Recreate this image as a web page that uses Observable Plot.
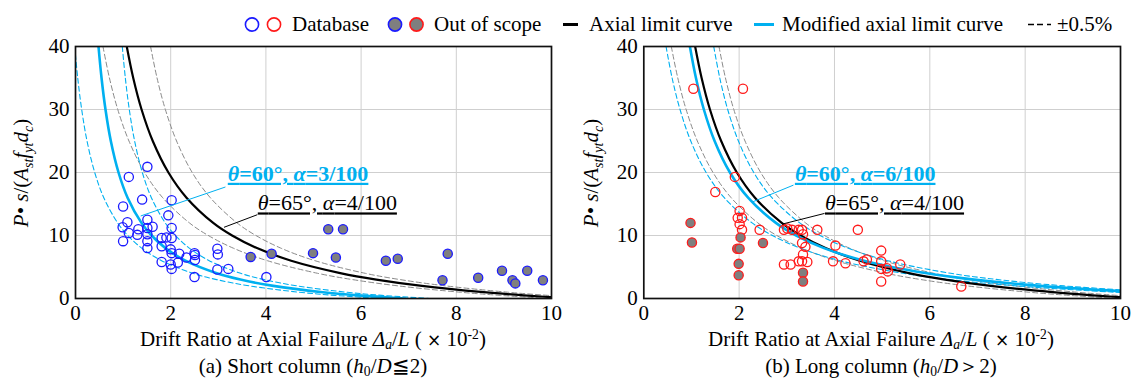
<!DOCTYPE html>
<html>
<head>
<meta charset="utf-8">
<script src="https://cdn.jsdelivr.net/npm/d3@7"></script>
<script src="https://cdn.jsdelivr.net/npm/@observablehq/plot@0.6"></script>
<style>
  html,body{margin:0;padding:0;background:#fff;}
  #wrap{position:relative;width:1137px;height:381px;overflow:hidden;font-family:"Liberation Serif","Times New Roman",serif;color:#000;}
  .leg{position:absolute;top:14px;height:21px;display:flex;align-items:center;font-size:21px;line-height:21px;white-space:nowrap;}
  .leg svg{display:block;overflow:visible;}
  .panel{position:absolute;top:36px;}
  .under{position:absolute;font-size:21px;line-height:24px;white-space:nowrap;transform:translateX(-50%);}
  .under sub,.under sup{font-size:65%;line-height:0;}
  .under sub{vertical-align:-0.25em;}
  .under sup{vertical-align:0.55em;}
</style>
</head>
<body>
<div id="wrap">
  <div id="legend"></div>
  <div id="left" class="panel" style="left:0px"></div>
  <div id="right" class="panel" style="left:570px"></div>
  <div class="under" style="left:313px;top:327px">Drift Ratio at Axial Failure <i>Δ<sub>a</sub></i>/<i>L</i> ( <span style="font-family:'DejaVu Sans',sans-serif;font-size:17px">×</span> 10<sup>-2</sup>)</div>
  <div class="under" style="left:881px;top:327px">Drift Ratio at Axial Failure <i>Δ<sub>a</sub></i>/<i>L</i> ( <span style="font-family:'DejaVu Sans',sans-serif;font-size:17px">×</span> 10<sup>-2</sup>)</div>
  <div class="under" style="left:313px;top:354px">(a) Short column (<i>h</i><sub>0</sub>/<i>D</i>≦2)</div>
  <div class="under" style="left:881px;top:354px">(b) Long column (<i>h</i><sub>0</sub>/<i>D</i>＞2)</div>
</div>
<script>
// ---------------- data ----------------
const xTicks = [0, 2, 4, 6, 8, 10];
const yTicks = [0, 10, 20, 30, 40];
const gridX = [2, 4, 6, 8];
const gridY = [10, 20, 30];

// Curve ordinates P·s/(Ast fyt dc)
const curveY = [40, 35, 30, 25, 20, 16, 12, 10, 8, 6, 4, 3, 2, 1, 0.5, 0];
// Axial limit curve, θ=65°, α=4/100 (drift ×10^-2)
const axialLimitX = [1.077, 1.213, 1.388, 1.623, 1.952, 2.332, 2.893, 3.290, 3.812, 4.531, 5.585, 6.320, 7.278, 8.578, 9.419, 10.443];
// Modified curve, short column, θ=60°, α=3/100
const modShortX = [0.483, 0.547, 0.630, 0.742, 0.904, 1.094, 1.386, 1.599, 1.890, 2.309, 2.969, 3.464, 4.157, 5.196, 5.938, 6.928];
// Modified curve, long column, θ=60°, α=6/100
const modLongX = [0.967, 1.094, 1.260, 1.485, 1.807, 2.188, 2.771, 3.198, 3.779, 4.619, 5.938, 6.928, 8.314, 10.392, 11.877, 13.856];
const band = 0.5; // ±0.5 %

// Short column: database
const shortDbX = [1.51, 1.12, 1.40, 2.02, 1.00, 1.95, 1.51, 1.09, 1.51, 1.51, 1.51, 1.51, 0.99, 1.12, 1.32, 1.30, 1.00, 1.62, 2.02, 1.81, 1.91, 2.02, 1.81, 2.00, 2.02, 2.18, 2.33, 2.50, 2.51, 2.51, 1.81, 2.00, 2.02, 2.15, 2.98, 2.99, 2.98, 3.21, 2.50, 4.01];
const shortDbY = [20.9, 19.3, 15.7, 15.6, 14.6, 13.2, 12.5, 12.1, 11.2, 10.2, 9.1, 8.0, 11.3, 10.4, 11.0, 10.1, 9.1, 11.4, 11.2, 9.6, 9.7, 9.6, 8.3, 7.8, 7.2, 7.1, 6.5, 7.2, 6.9, 6.1, 5.8, 5.4, 4.7, 5.7, 7.9, 7.0, 4.6, 4.7, 3.4, 3.4];
// Short column: out of scope
const shortOutX = [3.68, 4.12, 4.99, 5.47, 5.31, 5.62, 6.52, 6.77, 7.82, 7.71, 8.46, 8.96, 9.18, 9.24, 9.49, 9.82];
const shortOutY = [6.6, 7.1, 7.2, 6.5, 11.0, 11.0, 6.0, 6.3, 7.1, 2.9, 3.3, 4.4, 2.9, 2.4, 4.4, 2.9];

// Long column: database
const longDbX = [1.04, 2.08, 1.91, 1.50, 2.01, 2.06, 1.97, 2.01, 2.06, 2.43, 2.94, 3.01, 3.11, 3.25, 3.32, 3.34, 3.64, 4.49, 3.32, 3.39, 4.02, 3.34, 3.32, 3.43, 3.25, 3.97, 4.23, 2.94, 3.08, 4.61, 4.68, 4.98, 4.98, 4.98, 5.12, 5.10, 5.38, 4.98, 6.66];
const longDbY = [33.3, 33.3, 19.3, 16.9, 13.9, 12.8, 12.8, 11.8, 10.9, 10.9, 10.9, 11.1, 10.9, 10.9, 10.9, 10.2, 10.9, 10.9, 8.8, 8.2, 8.4, 7.0, 5.9, 5.8, 5.9, 5.9, 5.6, 5.4, 5.4, 5.9, 6.2, 7.6, 5.9, 4.7, 4.3, 4.8, 5.4, 2.7, 1.9];
// Long column: out of scope
const longOutX = [0.98, 1.01, 2.03, 1.96, 2.01, 1.99, 1.99, 2.50, 3.34, 3.34];
const longOutY = [12.0, 8.9, 9.7, 7.9, 7.9, 5.5, 3.7, 8.8, 4.1, 2.7];

const legendLabels = ["Database", "Out of scope", "Axial limit curve", "Modified axial limit curve", "±0.5%"];

// ---------------- styles ----------------
const FONT = '"Liberation Serif","Times New Roman",serif';
const CYAN = "#00b0f0";
const BLUE = "#1a1aff";
const RED = "#ff1a1a";
const GRAY = "#7f7f7f";

const zipPts = (xs, ys) => xs.map((x, i) => ({x, y: ys[i]}));
const curveRows = (xs, off) => xs.map((x, i) => ({x: x + off, y: curveY[i]}));

function panel(cfg) {
  const lineOpts = {x: "x", y: "y", curve: "catmull-rom", clip: true};
  const marks = [
    Plot.ruleX(gridX, {stroke: "#cfcfcf", strokeWidth: 1}),
    Plot.ruleY(gridY, {stroke: "#cfcfcf", strokeWidth: 1}),
    Plot.line(curveRows(axialLimitX, band), {...lineOpts, stroke: "#8a8a8a", strokeWidth: 1, strokeDasharray: "5,3"}),
    Plot.line(curveRows(axialLimitX, -band), {...lineOpts, stroke: "#8a8a8a", strokeWidth: 1, strokeDasharray: "5,3"}),
    Plot.line(curveRows(cfg.mod, band), {...lineOpts, stroke: CYAN, strokeWidth: 1.1, strokeDasharray: "5,3"}),
    Plot.line(curveRows(cfg.mod, -band), {...lineOpts, stroke: CYAN, strokeWidth: 1.1, strokeDasharray: "5,3"}),
    Plot.line(curveRows(axialLimitX, 0), {...lineOpts, stroke: "#000", strokeWidth: 2.2}),
    Plot.line(curveRows(cfg.mod, 0), {...lineOpts, stroke: CYAN, strokeWidth: 2.6}),
    Plot.dot(cfg.db, {x: "x", y: "y", r: 4.6, stroke: cfg.color, strokeWidth: 1.3, fill: "none"}),
    Plot.dot(cfg.out, {x: "x", y: "y", r: 4.6, stroke: cfg.color, strokeWidth: 1.3, fill: GRAY}),
    Plot.link(cfg.leaders, {x1: "x1", y1: "y1", x2: "x2", y2: "y2", stroke: "color", strokeWidth: 1}),
    Plot.frame({stroke: "#111", strokeWidth: 1.7})
  ];
  const plot = Plot.plot({
    width: cfg.width, height: 290,
    marginLeft: cfg.ml, marginRight: cfg.mr, marginTop: 10, marginBottom: 28,
    x: {domain: [0, 10], ticks: xTicks, tickSize: 0, tickPadding: 7, label: null},
    y: {domain: [0, 40], ticks: yTicks, tickSize: 0, tickPadding: 6, label: null},
    style: {fontSize: "21px", fontFamily: FONT, background: "transparent", overflow: "visible", color: "#000"},
    marks
  });
  const svg = d3.select(plot.tagName.toLowerCase() === "svg" ? plot : plot.querySelector("svg"));
  const sx = plot.scale("x"), sy = plot.scale("y");
  // annotations
  for (const a of cfg.labels) {
    const t = svg.append("text")
      .attr("x", sx.apply(a.x)).attr("y", sy.apply(a.y))
      .attr("text-anchor", "start")
      .attr("fill", a.color).attr("font-size", 22).attr("font-family", FONT)
      .attr("font-weight", a.bold ? "bold" : null)
      .style("text-decoration", "underline");
    for (const p of a.parts) t.append("tspan").attr("font-style", p.i ? "italic" : null).text(p.t);
  }
  // y axis title
  const yt = svg.append("text").attr("transform", "translate(28,137) rotate(-90)")
    .attr("text-anchor", "middle").attr("font-size", 21).attr("font-family", FONT).attr("fill", "#000");
  const parts = [
    {t: "P", i: 1}, {t: "• "}, {t: "s", i: 1}, {t: "/("}, {t: "A", i: 1},
    {t: "st", i: 1, sub: 1}, {t: "f", i: 1}, {t: "yt", i: 1, sub: 1}, {t: "d", i: 1}, {t: "c", i: 1, sub: 1}, {t: ")"}
  ];
  let shifted = false;
  for (const p of parts) {
    const s = yt.append("tspan").text(p.t).attr("font-style", p.i ? "italic" : null);
    if (p.sub && !shifted) { s.attr("dy", 5).attr("font-size", 14); shifted = true; }
    else if (p.sub) { s.attr("font-size", 14); }
    else if (shifted) { s.attr("dy", -5); shifted = false; }
  }
  return plot;
}

const lab = (txt1, txt2) => [{t: "θ", i: 1}, {t: txt1}, {t: "α", i: 1}, {t: txt2}];

document.getElementById("left").appendChild(panel({
  width: 570, ml: 75, mr: 19, color: BLUE, mod: modShortX,
  db: zipPts(shortDbX, shortDbY), out: zipPts(shortOutX, shortOutY),
  leaders: [
    {x1: 3.15, y1: 17.7, x2: 1.37, y2: 13.1, color: CYAN},
    {x1: 3.82, y1: 13.3, x2: 3.12, y2: 11.3, color: "#000"}
  ],
  labels: [
    {x: 3.21, y: 18.6, color: CYAN, bold: true, parts: lab("=60°, ", "=3/100")},
    {x: 3.84, y: 13.9, color: "#000", bold: false, parts: lab("=65°, ", "=4/100")}
  ]
}));
document.getElementById("right").appendChild(panel({
  width: 567, ml: 73.3, mr: 17, color: RED, mod: modLongX,
  db: zipPts(longDbX, longDbY), out: zipPts(longOutX, longOutY),
  leaders: [
    {x1: 3.14, y1: 18.0, x2: 2.27, y2: 15.3, color: CYAN},
    {x1: 3.79, y1: 13.5, x2: 2.90, y2: 11.8, color: "#000"}
  ],
  labels: [
    {x: 3.18, y: 18.6, color: CYAN, bold: true, parts: lab("=60°, ", "=6/100")},
    {x: 3.81, y: 13.9, color: "#000", bold: false, parts: lab("=65°, ", "=4/100")}
  ]
}));

// ---------------- legend ----------------
const legend = document.getElementById("legend");
function legItem(left, swatchSvg, text) {
  const d = document.createElement("div");
  d.className = "leg";
  d.style.left = left + "px";
  d.innerHTML = swatchSvg + `<span>${text}</span>`;
  legend.appendChild(d);
}
const circ = (cx, stroke, fill) => `<circle cx="${cx}" cy="10.5" r="6.6" stroke="${stroke}" stroke-width="1.6" fill="${fill}"/>`;
legItem(244, `<svg width="48" height="21">${circ(8, BLUE, "none")}${circ(30, RED, "none")}</svg>`, legendLabels[0]);
legItem(387, `<svg width="47" height="21">${circ(8, BLUE, GRAY)}${circ(29.5, RED, GRAY)}</svg>`, legendLabels[1]);
legItem(563, `<svg width="26" height="21"><line x1="0" x2="15" y1="10.5" y2="10.5" stroke="#000" stroke-width="3"/></svg>`, legendLabels[2]);
legItem(754, `<svg width="28" height="21"><line x1="0" x2="20" y1="10.5" y2="10.5" stroke="${CYAN}" stroke-width="3"/></svg>`, legendLabels[3]);
legItem(1028, `<svg width="29" height="21"><line x1="0" x2="23" y1="10.5" y2="10.5" stroke="#000" stroke-width="1.5" stroke-dasharray="6,3,6,4,2,0"/></svg>`, legendLabels[4]);
</script>
</body>
</html>
